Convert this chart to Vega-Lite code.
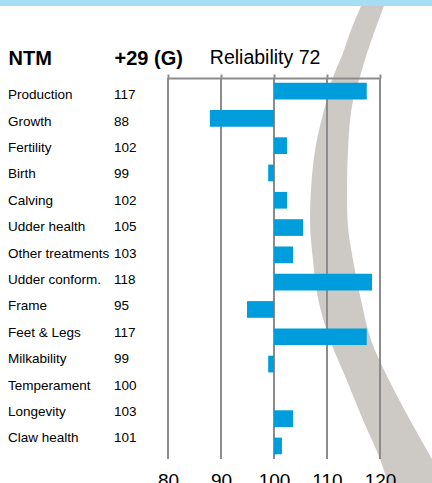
{
  "$schema": "https://vega.github.io/schema/vega-lite/v6.json",
  "padding": 0,
  "spacing": 0,
  "background": "#ffffff",
  "config": {"font": "Liberation Sans", "view": {"stroke": null}},
  "datasets": {
    "traits": [
      {"NTM": "Production", "+29 (G)": 117, "score": 117.5},
      {"NTM": "Growth", "+29 (G)": 88, "score": 87.9},
      {"NTM": "Fertility", "+29 (G)": 102, "score": 102.45},
      {"NTM": "Birth", "+29 (G)": 99, "score": 98.9},
      {"NTM": "Calving", "+29 (G)": 102, "score": 102.45},
      {"NTM": "Udder health", "+29 (G)": 105, "score": 105.5},
      {"NTM": "Other treatments", "+29 (G)": 103, "score": 103.6},
      {"NTM": "Udder conform.", "+29 (G)": 118, "score": 118.5},
      {"NTM": "Frame", "+29 (G)": 95, "score": 94.9},
      {"NTM": "Feet & Legs", "+29 (G)": 117, "score": 117.5},
      {"NTM": "Milkability", "+29 (G)": 99, "score": 98.9},
      {"NTM": "Temperament", "+29 (G)": 100, "score": 100},
      {"NTM": "Longevity", "+29 (G)": 103, "score": 103.6},
      {"NTM": "Claw health", "+29 (G)": 101, "score": 101.5}
    ],
    "grid": [{"tick": 80}, {"tick": 90}, {"tick": 100}, {"tick": 110}, {"tick": 120}],
    "swoosh": [
      {"pos": -3.116, "lo": 116.42, "hi": 120.75},
      {"pos": -2.237, "lo": 114.53, "hi": 119.06},
      {"pos": -1.394, "lo": 113.02, "hi": 117.55},
      {"pos": -0.405, "lo": 110.94, "hi": 116.04},
      {"pos": 0.327, "lo": 109.94, "hi": 114.91},
      {"pos": 2.159, "lo": 107.74, "hi": 113.96},
      {"pos": 3.624, "lo": 106.98, "hi": 113.77},
      {"pos": 4.723, "lo": 106.79, "hi": 113.87},
      {"pos": 6.188, "lo": 107.36, "hi": 114.91},
      {"pos": 7.653, "lo": 108.36, "hi": 116.42},
      {"pos": 9.118, "lo": 110.57, "hi": 118.3},
      {"pos": 10.583, "lo": 113.72, "hi": 121.7},
      {"pos": 12.049, "lo": 116.79, "hi": 125.66},
      {"pos": 13.477, "lo": 120.0, "hi": 129.81},
      {"pos": 14.356, "lo": 121.51, "hi": 132.45}
    ]
  },
  "vconcat": [
    {
      "width": 432,
      "height": 6,
      "view": {"fill": "#a6ddf2", "stroke": null},
      "data": {"values": [{"heading": "Breeding values and predicted"}]},
      "mark": {"type": "text", "clip": true, "align": "center", "baseline": "alphabetic", "dx": -33.5, "dy": -9.5, "fontSize": 24, "fontWeight": "bold", "color": "#000000"},
      "encoding": {"text": {"field": "heading", "type": "nominal"}}
    },
    {
      "hconcat": [
        {
          "width": 168,
          "height": 381,
          "data": {"name": "traits"},
          "transform": [{"fold": ["NTM", "+29 (G)"], "as": ["column", "entry"]}],
          "mark": {"type": "text", "align": "left", "baseline": "alphabetic", "fontSize": 13.5, "color": "#000000"},
          "encoding": {
            "x": {
              "field": "column", "type": "nominal", "sort": ["NTM", "+29 (G)"],
              "scale": {"type": "point", "range": [8, 114], "padding": 0},
              "axis": {
                "orient": "top", "domain": false, "ticks": false, "grid": false, "title": null,
                "labelAlign": "left", "labelBaseline": "alphabetic", "labelPadding": 14, "labelAngle": 0,
                "labelFontSize": 20, "labelFontWeight": "bold", "labelColor": "#000000", "labelLimit": 0
              }
            },
            "y": {
              "field": "NTM", "type": "nominal", "sort": null,
              "scale": {"type": "point", "range": [21.3, 364.3], "padding": 0},
              "axis": null
            },
            "text": {"field": "entry"}
          }
        },
        {
          "width": 212,
          "height": 381,
          "layer": [
            {
              "data": {"name": "swoosh"},
              "mark": {"type": "area", "orient": "horizontal", "interpolate": "monotone", "color": "#cdcac6", "clip": false},
              "encoding": {
                "y": {"field": "pos", "type": "quantitative", "scale": {"domain": [-0.479, 13.477], "reverse": true, "zero": false, "nice": false}, "axis": null},
                "x": {"field": "lo", "type": "quantitative", "scale": {"domain": [80, 120], "zero": false, "nice": false}, "axis": null},
                "x2": {"field": "hi"}
              }
            },
            {
              "data": {"name": "grid"},
              "mark": {"type": "rule", "color": "#8c8c8c", "strokeWidth": 2},
              "encoding": {
                "x": {
                  "field": "tick", "type": "quantitative",
                  "scale": {"domain": [80, 120], "zero": false, "nice": false},
                  "axis": {
                    "orient": "top", "values": [80, 90, 100, 110, 120], "labels": false, "grid": false,
                    "ticks": true, "tickSize": 4, "tickWidth": 2, "tickColor": "#8c8c8c",
                    "domain": true, "domainWidth": 2, "domainColor": "#8c8c8c", "zindex": 1,
                    "title": "Reliability 72", "titleFontSize": 19.5, "titleFontWeight": "normal", "titleColor": "#000000",
                    "titleAlign": "left", "titleBaseline": "alphabetic", "titleX": 41.3, "titleY": -14.7
                  }
                }
              }
            },
            {
              "data": {"name": "traits"},
              "mark": {"type": "bar", "color": "#009ddc"},
              "encoding": {
                "y": {
                  "field": "NTM", "type": "nominal", "sort": null,
                  "scale": {"paddingInner": 0.388, "paddingOuter": 0.172},
                  "axis": null
                },
                "x": {
                  "field": "score", "type": "quantitative",
                  "scale": {"domain": [80, 120], "zero": false, "nice": false},
                  "axis": {
                    "orient": "bottom", "values": [80, 90, 100, 110, 120], "domain": false, "ticks": false, "grid": false,
                    "labelFontSize": 19, "labelColor": "#000000", "labelPadding": 12, "labelFlush": false, "title": null, "zindex": 1
                  }
                },
                "x2": {"datum": 100}
              }
            }
          ],
          "resolve": {"scale": {"x": "independent", "y": "independent"}}
        }
      ],
      "bounds": "flush",
      "spacing": 0
    }
  ]
}
